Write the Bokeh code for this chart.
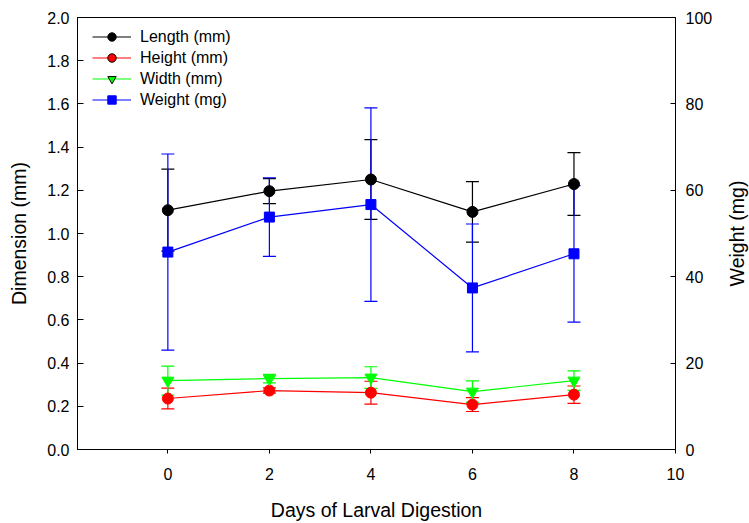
from bokeh.plotting import figure
from bokeh.layouts import row
from bokeh.models import (ColumnDataSource, Range1d, LinearAxis, FixedTicker,
                          Whisker, TeeHead, Legend, LegendItem, NumeralTickFormatter)
from bokeh.embed import file_html
from bokeh.resources import INLINE

# Measurements over days of larval digestion (mean and error)
days = [0, 2, 4, 6, 8]
length_mm = [1.108, 1.196, 1.250, 1.100, 1.229]
length_err = [0.190, 0.058, 0.185, 0.140, 0.145]
height_mm = [0.236, 0.273, 0.263, 0.208, 0.254]
height_err = [0.048, 0.012, 0.053, 0.032, 0.040]
width_mm = [0.319, 0.328, 0.333, 0.268, 0.319]
width_err = [0.067, 0.020, 0.050, 0.050, 0.045]
weight_mg = [45.7, 53.8, 56.7, 37.4, 45.3]
weight_err = [22.7, 9.1, 22.4, 14.8, 15.8]

x_ticks = [0, 2, 4, 6, 8, 10]
left_ticks = [0.0, 0.2, 0.4, 0.6, 0.8, 1.0, 1.2, 1.4, 1.6, 1.8, 2.0]
right_ticks = [0, 20, 40, 60, 80, 100]

FONT = "Liberation Sans"
TITLE_SIZE = "19.5px"

p = figure(width=720, height=523, output_backend="svg", toolbar_location=None,
           x_range=Range1d(-1.78, 10), y_range=Range1d(0, 2),
           min_border_left=77, min_border_right=45, min_border_top=17,
           min_border_bottom=73)
p.extra_y_ranges = {"weight": Range1d(0, 100)}
p.xgrid.visible = False
p.ygrid.visible = False
p.outline_line_color = "black"
p.outline_line_width = 1
p.background_fill_color = "white"
p.border_fill_color = "white"

def style_axis(ax, tick_in, tick_out, label_standoff, title_standoff):
    ax.axis_line_color = "black"
    ax.major_tick_line_color = "black"
    ax.major_tick_in = tick_in
    ax.major_tick_out = tick_out
    ax.minor_tick_line_color = None
    ax.major_label_text_font = FONT
    ax.major_label_text_font_size = "16px"
    ax.major_label_text_color = "black"
    ax.major_label_standoff = label_standoff
    ax.axis_label_text_font = FONT
    ax.axis_label_text_font_size = TITLE_SIZE
    ax.axis_label_text_font_style = "normal"
    ax.axis_label_text_color = "black"
    ax.axis_label_standoff = title_standoff

xa = p.xaxis[0]
xa.ticker = FixedTicker(ticks=x_ticks)
xa.axis_label = "Days of Larval Digestion"
style_axis(xa, 0, 4, 14, 16)

ya = p.yaxis[0]
ya.ticker = FixedTicker(ticks=left_ticks)
ya.formatter = NumeralTickFormatter(format="0.0")
ya.axis_label = "Dimension (mm)"
style_axis(ya, 6, 0, 8, 14)

ra = LinearAxis(y_range_name="weight", ticker=FixedTicker(ticks=right_ticks))
style_axis(ra, 5, 0, 10, 0)
p.add_layout(ra, "right")

def series(values, errs, color, marker, size, y_range_name="default"):
    src = ColumnDataSource(dict(
        x=days, y=values,
        lo=[v - e for v, e in zip(values, errs)],
        hi=[v + e for v, e in zip(values, errs)]))
    p.line("x", "y", source=src, line_color=color, line_width=1.2,
           y_range_name=y_range_name)
    w = Whisker(base="x", lower="lo", upper="hi", source=src, dimension="height",
                line_color=color, line_width=1.2,
                upper_head=TeeHead(size=13, line_color=color, line_width=1.2),
                lower_head=TeeHead(size=13, line_color=color, line_width=1.2))
    if y_range_name != "default":
        w.y_range_name = y_range_name
    p.add_layout(w)
    p.scatter("x", "y", source=src, marker=marker, size=size, fill_color=color,
              line_color=color, y_range_name=y_range_name)
    return src

h_src = series(height_mm, height_err, "#ff0000", "circle", 11)
w_src = series(width_mm, width_err, "#00ff00", "inverted_triangle", 12)
l_src = series(length_mm, length_err, "#000000", "circle", 11)
g_src = series(weight_mg, weight_err, "#0000ff", "square", 10, "weight")

# Key glyphs: hidden copies of each series so the key symbols carry their own outlines
items = []
for label, src, rng, color, marker, edge in [
        ("Length (mm)", l_src, "default", "#000000", "circle", "#000000"),
        ("Height (mm)", h_src, "default", "#ff0000", "circle", "#000000"),
        ("Width (mm)", w_src, "default", "#00ff00", "inverted_triangle", "#000000"),
        ("Weight (mg)", g_src, "weight", "#0000ff", "square", "#0000ff")]:
    lr = p.line("x", "y", source=src, line_color=color, line_width=1.2,
                y_range_name=rng, visible=False)
    sr = p.scatter("x", "y", source=src, marker=marker, fill_color=color,
                   line_color=edge, line_width=1, y_range_name=rng, visible=False)
    items.append(LegendItem(label=label, renderers=[lr, sr]))

legend = Legend(items=items, location=(15, 339), padding=0, margin=0,
                glyph_width=39, glyph_height=21, spacing=0, label_standoff=9,
                label_text_font=FONT, label_text_font_size="16px",
                label_text_color="black", border_line_alpha=0,
                background_fill_alpha=0, inactive_fill_alpha=0)
p.add_layout(legend)

# Narrow strip on the right carrying the weight-axis title, read bottom to top
strip = figure(width=29, height=523, output_backend="svg", toolbar_location=None,
               x_axis_location=None, min_border_left=0, min_border_right=0,
               min_border_top=17, min_border_bottom=73,
               x_range=Range1d(0, 1), y_range=Range1d(0, 100))
strip.outline_line_color = None
strip.xgrid.visible = False
strip.ygrid.visible = False
strip.background_fill_color = "white"
strip.border_fill_color = "white"
sa = strip.yaxis[0]
sa.ticker = FixedTicker(ticks=[])
sa.axis_line_color = None
sa.major_tick_line_color = None
sa.minor_tick_line_color = None
sa.major_tick_in = 0
sa.major_tick_out = 0
sa.major_label_standoff = 0
sa.axis_label = "Weight (mg)"
sa.axis_label_text_font = FONT
sa.axis_label_text_font_size = TITLE_SIZE
sa.axis_label_text_font_style = "normal"
sa.axis_label_text_color = "black"
sa.axis_label_standoff = -27

layout = row(p, strip, spacing=0)
open("out.html", "w").write(file_html(layout, INLINE))
